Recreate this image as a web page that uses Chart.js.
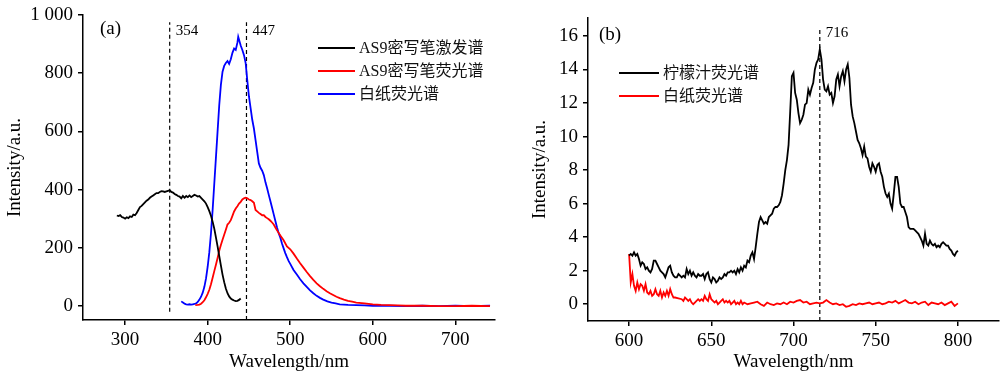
<!DOCTYPE html>
<html>
<head>
<meta charset="utf-8">
<script src="https://cdn.jsdelivr.net/npm/chart.js@4/dist/chart.umd.min.js"></script>
<style>
  body { margin: 0; background: #fff; }
  .panel { position: absolute; top: 0; width: 500px; height: 375px; }
</style>
</head>
<body>
<div class="panel" style="left:0"><canvas id="chartA" width="500" height="375"></canvas></div>
<div class="panel" style="left:500px"><canvas id="chartB" width="500" height="375"></canvas></div>
<script>
const FONT = "'Liberation Serif', 'Noto Sans CJK SC', serif";

// ---- panel (a) ----
const exWl = [290,292,294,296,298,300,302,304,306,308,310,312,314,316,318,320,322,324,326,328,330,332,334,336,338,340,342,344,346,348,350,352,354,356,358,360,362,364,366,368,370,372,374,376,378,380,382,384,386,388,390,392,394,396,398,400,402,404,406,408,410,412,414,416,418,420,422,424,426,428,430,432,434,436,438,440];
const exVal = [311,309,312,306,304,300,305,302,308,306,314,312,320,330,340,344,350,356,362,366,372,376,380,384,388,388,392,395,394,392,394,396,398,392,390,385,382,378,376,370,378,372,378,374,380,374,378,382,380,376,378,372,366,360,352,340,326,310,290,266,236,205,172,140,108,82,60,44,33,26,22,19,17,18,21,26];

const paperWl = [368,370,372,374,376,378,380,382,384,386,388,390,392,394,396,398,400,402,404,406,408,410,412,414,416,418,420,422,424,426,428,430,432,434,436,437,438,440,442,444,446,448,450,452,454,456,458,460,462,464,466,468,470,472,474,476,478,480,482,484,486,488,490,492,494,496,498,500,504,508,512,516,520,524,528,532,536,540,545,550,555,560,570,580,590,600,620,640,660,680,700,720,742];
const paperVal = [16,12,8,6,5,6,5,6,7,9,14,22,32,46,66,95,135,185,250,330,420,510,600,690,760,805,825,835,842,832,848,870,885,880,905,925,915,895,880,862,835,775,720,680,640,610,570,530,490,475,465,450,425,405,382,360,338,315,292,270,250,235,215,198,182,168,155,145,124,108,92,78,66,54,44,35,28,22,16,12,9,6,4,3,2,1,1,0,1,0,1,0,1];

const penWl = [385,388,390,392,394,396,398,400,402,404,406,408,410,412,414,416,418,420,422,424,426,428,430,432,434,436,438,440,442,444,446,448,450,452,454,456,458,460,462,464,466,468,470,472,474,476,478,480,482,484,488,492,496,500,504,508,512,516,520,524,528,532,536,540,544,548,552,556,560,565,570,575,580,590,600,610,620,630,640,660,680,700,720,742];
const penVal = [3,4,5,8,13,20,30,42,56,75,97,120,142,165,190,210,228,245,262,280,286,295,310,325,335,343,352,358,366,370,372,370,366,364,360,355,330,325,320,316,312,312,306,302,298,293,287,280,270,260,242,226,205,195,180,163,147,132,117,103,90,78,68,59,51,44,38,32,27,22,18,15,12,9,6,4,3,2,1,1,0,0,1,0];

const aTicksX = [300,400,500,600,700];
const aTicksY = [0,200,400,600,800,1000];
const aPeaks = [354,447];

// ---- panel (b) ----
const lemonWl = [600,601,602,603,604,605,606,607,608,609,610,611,612,613,614,615,616,617,618,619,620,621,622,623,624,625,626,627,628,629,630,631,632,633,634,635,636,637,638,639,640,641,642,643,644,645,646,647,648,649,650,651,652,653,654,655,656,657,658,659,660,661,662,663,664,665,666,667,668,669,670,671,672,673,674,675,676,677,678,679,680,681,682,683,684,685,686,687,688,689,690,691,692,693,694,695,696,697,698,699,700,701,702,703,704,705,706,707,708,709,710,711,712,713,714,715,716,717,718,719,720,721,722,723,724,725,726,727,728,729,730,731,732,733,734,735,736,737,738,739,740,741,742,743,744,745,746,747,748,749,750,751,752,753,754,755,756,757,758,759,760,761,762,763,764,765,766,767,768,769,770,771,772,773,774,775,776,777,778,779,780,781,782,783,784,785,786,787,788,789,790,791,792,793,794,795,796,797,798,799,800];
const lemonVal = [2.9,3.0,2.9,3.1,2.9,3.0,2.7,2.3,2.5,2.4,2.1,2.2,2.0,1.9,2.1,2.6,2.6,2.4,2.2,2.0,1.9,1.8,1.6,1.9,2.2,2.3,1.9,1.7,1.6,1.6,1.8,1.7,1.6,1.7,1.6,2.1,1.8,2.0,1.7,1.9,1.7,1.6,1.8,1.7,1.7,1.8,1.5,1.8,1.9,1.5,1.3,1.6,1.5,1.3,1.4,1.6,1.5,1.6,1.8,1.7,1.9,1.9,2.0,1.9,2.0,1.8,2.1,1.9,2.2,2.0,2.3,2.2,2.6,2.5,2.9,3.1,2.7,3.4,4.2,4.9,5.2,5.0,4.8,4.9,4.8,5.2,5.3,5.4,5.7,5.8,5.8,5.9,6.1,6.5,7.2,8.0,8.6,9.5,11.5,13.6,13.8,12.6,12.2,11.4,10.8,11.0,11.3,11.9,12.0,12.8,12.5,12.9,13.2,14.0,14.4,14.6,15.2,14.6,13.4,12.8,12.7,13.0,12.5,12.6,12.0,12.4,13.4,13.7,13.0,13.6,13.9,13.3,14.0,14.3,13.5,11.9,11.2,10.8,10.3,9.8,9.6,9.3,8.9,9.4,8.8,8.7,8.2,7.9,8.4,8.2,7.9,8.3,8.4,7.9,7.6,7.0,6.6,6.4,6.6,6.0,5.7,6.6,7.6,7.6,7.0,6.0,5.8,5.8,5.5,5.2,4.6,4.5,4.5,4.5,4.4,4.3,4.2,4.0,3.8,3.5,4.2,3.6,3.5,3.8,3.6,3.5,3.6,3.4,3.5,3.4,3.6,3.7,3.6,3.5,3.5,3.3,3.2,3.0,2.9,3.1,3.2];

const blankWl = [600,601,602,603,604,605,606,607,608,609,610,611,612,613,614,615,616,617,618,619,620,621,622,623,624,625,626,627,628,630,632,633,634,635,636,637,638,639,640,642,643,644,645,646,647,648,649,650,651,652,653,654,655,656,657,658,659,660,661,662,663,664,665,666,667,668,669,670,672,674,676,678,680,682,684,686,688,690,692,694,696,698,700,702,704,706,708,710,712,714,716,718,720,722,724,726,728,730,732,734,736,738,740,742,744,746,748,750,752,754,756,758,760,762,764,766,768,770,772,774,776,778,780,782,784,786,788,790,792,794,796,798,800];
const blankVal = [3.0,1.3,1.8,1.1,0.8,1.3,0.9,1.2,1.1,0.8,1.2,0.7,0.6,0.8,0.5,0.6,0.9,0.6,0.5,0.8,0.4,0.7,0.5,0.8,0.5,0.9,0.6,0.4,0.4,0.35,0.3,0.2,0.4,0.3,0.2,0.3,0.1,0.0,0.1,0.3,0.2,0.3,0.2,0.5,0.3,0.2,0.6,0.3,0.2,0.1,0.2,0.0,0.1,0.2,0.3,0.1,0.2,0.1,0.2,0.0,0.1,0.2,0.0,0.1,0.0,0.2,0.0,0.1,0.0,0.05,0.1,0.15,0.0,-0.1,0.1,0.0,-0.05,0.05,0.0,0.1,0.0,0.15,0.1,0.2,0.25,0.1,0.15,0.0,0.05,0.1,0.05,0.1,0.25,0.1,0.0,0.05,-0.05,0.0,-0.15,-0.1,0.0,-0.05,0.05,0.0,0.05,0.1,0.0,0.05,0.1,0.0,0.05,0.15,0.1,0.2,0.05,0.15,0.25,0.1,0.05,0.15,0.0,0.1,0.15,-0.05,0.1,0.05,0.0,0.1,-0.05,0.05,0.15,-0.1,0.05];

const bTicksX = [600,650,700,750,800];
const bTicksY = [0,2,4,6,8,10,12,14,16];
const bPeaks = [716];

function pts(xs, ys) { return xs.map((x, i) => ({ x, y: ys[i] })); }

function line(label, xs, ys, color) {
    return { label, data: pts(xs, ys), borderColor: color, borderWidth: 1.8, pointRadius: 0, tension: 0, legend: true };
}

function dashed(x, y0, y1) {
    return { label: '', data: [{ x, y: y0 }, { x, y: y1 }], borderColor: '#000', borderWidth: 1.2, borderDash: [4, 3], pointRadius: 0 };
}

// legend, panel tag, peak labels
const annotate = {
    id: 'annotate',
    afterDraw(chart, args, o) {
        const { ctx, chartArea: ca, scales } = chart;
        ctx.save();
        ctx.fillStyle = '#000';
        ctx.textBaseline = 'middle';
        ctx.font = '19px ' + FONT;
        ctx.fillText(o.tag, ca.left + o.tagPos[0], ca.top + o.tagPos[1]);
        ctx.font = '15px ' + FONT;
        o.peaks.forEach(p => ctx.fillText(String(p), scales.x.getPixelForValue(p) + 6, ca.top + o.peakY));
        ctx.font = '16px ' + FONT;
        chart.data.datasets.filter(d => d.legend).forEach((d, i) => {
            const y = ca.top + o.legY + i * o.legGap;
            ctx.strokeStyle = d.borderColor;
            ctx.lineWidth = 1.8;
            ctx.beginPath();
            ctx.moveTo(ca.left + o.legX, y);
            ctx.lineTo(ca.left + o.legX + o.legLen, y);
            ctx.stroke();
            ctx.fillStyle = '#111';
            ctx.fillText(d.label, ca.left + o.legX + o.legLen + 4, y + 1);
        });
        ctx.restore();
    }
};

function makeChart(id, cfg) {
    const axisFont = { family: FONT, size: 19 };
    return new Chart(document.getElementById(id), {
        type: 'line',
        data: { datasets: cfg.datasets },
        options: {
            responsive: false,
            animation: false,
            devicePixelRatio: 1,
            layout: { padding: cfg.padding },
            plugins: { legend: { display: false }, tooltip: { enabled: false }, annotate: cfg.annotate },
            scales: {
                x: {
                    type: 'linear', min: cfg.xMin, max: cfg.xMax,
                    afterBuildTicks: s => { s.ticks = cfg.xTicks.map(v => ({ value: v })); },
                    afterFit: s => { s.height = cfg.xHeight; s.paddingLeft = 0; s.paddingRight = 0; },
                    border: { color: '#000', width: 1.5 },
                    grid: { drawOnChartArea: false, tickLength: 5, color: '#000', lineWidth: 1.5 },
                    ticks: { font: axisFont, color: '#000', padding: 4, maxRotation: 0 },
                    title: { display: true, text: 'Wavelength/nm', font: axisFont, color: '#000', padding: { top: 0, bottom: 2 } }
                },
                y: {
                    min: cfg.yMin, max: cfg.yMax,
                    afterBuildTicks: s => { s.ticks = cfg.yTicks.map(v => ({ value: v })); },
                    afterFit: s => { s.width = cfg.yWidth; s.paddingTop = 0; s.paddingBottom = 0; },
                    border: { color: '#000', width: 1.5 },
                    grid: { drawOnChartArea: false, tickLength: 5, color: '#000', lineWidth: 1.5 },
                    ticks: { font: axisFont, color: '#000', padding: 5, callback: v => v >= 1000 ? '1 000' : String(v) },
                    title: { display: true, text: 'Intensity/a.u.', font: axisFont, color: '#000', padding: { top: cfg.yTitlePad, bottom: 0 } }
                }
            }
        },
        plugins: [annotate]
    });
}

makeChart('chartA', {
    datasets: [
        line('AS9密写笔激发谱', exWl, exVal, '#000'),
        line('AS9密写笔荧光谱', penWl, penVal, '#ff0000'),
        line('白纸荧光谱', paperWl, paperVal, '#0000ff'),
        dashed(aPeaks[0], -20, 975),
        dashed(aPeaks[1], -48, 975)
    ],
    xMin: 249, xMax: 748, yMin: -48, yMax: 1000,
    xTicks: aTicksX, yTicks: aTicksY,
    padding: { left: 0, right: 5, top: 15, bottom: 0 },
    xHeight: 55, yWidth: 83, yTitlePad: 4,
    annotate: { tag: '(a)', tagPos: [17, 14], peaks: aPeaks, peakY: 16, legX: 235, legLen: 37, legY: 33, legGap: 23 }
});

makeChart('chartB', {
    datasets: [
        line('柠檬汁荧光谱', lemonWl, lemonVal, '#000'),
        line('白纸荧光谱', blankWl, blankVal, '#ff0000'),
        dashed(bPeaks[0], -1, 16.5)
    ],
    xMin: 575, xMax: 825, yMin: -1, yMax: 17.07,
    xTicks: bTicksX, yTicks: bTicksY,
    padding: { left: 0, right: 1, top: 18, bottom: 0 },
    xHeight: 54, yWidth: 88, yTitlePad: 29,
    annotate: { tag: '(b)', tagPos: [11, 17], peaks: bPeaks, peakY: 15, legX: 31, legLen: 40, legY: 55, legGap: 23 }
});
</script>
</body>
</html>
